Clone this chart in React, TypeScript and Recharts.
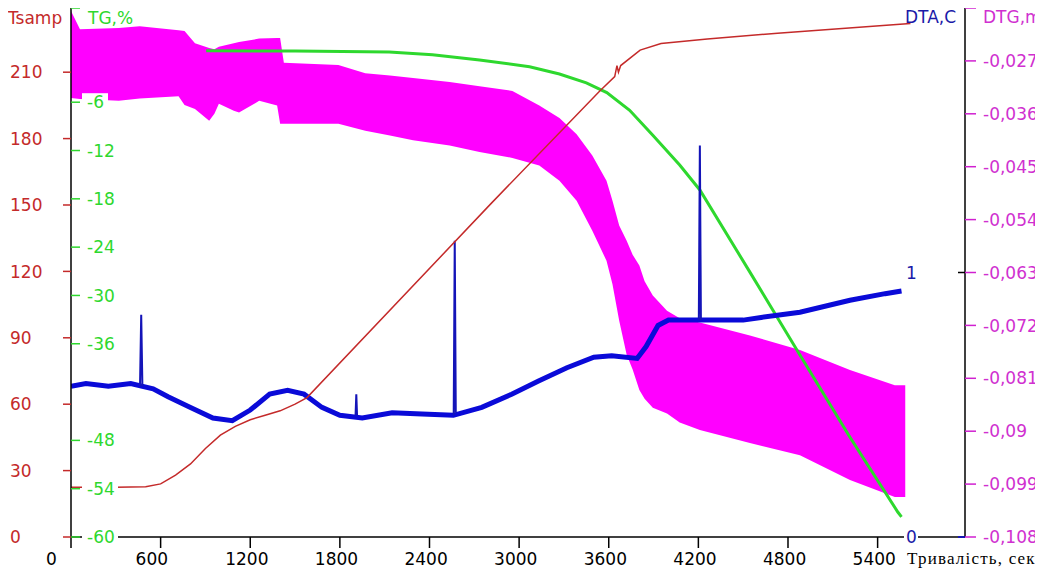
import React from 'react'
import { Area, ComposedChart, Line, XAxis, YAxis } from 'recharts'

// axis ticks
const timeTicks = [0, 600, 1200, 1800, 2400, 3000, 3600, 4200, 4800, 5400]
const tempTicks = [0, 30, 60, 90, 120, 150, 180, 210]
const tgTicks = [-60, -54, -48, -36, -30, -24, -18, -12, -6, 5.7]
const dtgTicks = [-0.108, -0.099, -0.09, -0.081, -0.072, -0.063, -0.054, -0.045, -0.036, -0.027, -0.018]
const dtaTicks = [0, 1]

// Tsamp, C
const tempTime = [0, 300, 500, 600, 700, 800, 900, 1000, 1100, 1200, 1300, 1400, 1500, 1580, 2810, 3540, 3640, 3655, 3665, 3680, 3810, 3950, 4260, 4730, 5550, 5620]
const tempVal = [22.5, 22.5, 22.7, 24, 28, 33, 40, 46, 50, 53, 55, 57, 60, 63, 150.5, 201.5, 208, 213, 210, 213, 220, 223, 225, 227.6, 231.7, 232]

// TG, %
const tgTime = [905, 1500, 2130, 2420, 2735, 3070, 3270, 3450, 3587, 3740, 3895, 4075, 4210, 4545, 4880, 5215, 5535, 5560]
const tgVal = [0.4, 0.35, 0.25, -0.1, -0.75, -1.6, -2.5, -3.6, -4.8, -7.0, -10.1, -13.8, -16.9, -27.1, -37.4, -47.6, -56.9, -57.5]

// DTA, C (base signal)
const dtaTime = [0, 100, 250, 400, 550, 650, 800, 950, 1080, 1200, 1330, 1450, 1560, 1680, 1800, 1950, 2150, 2350, 2560, 2750, 2950, 3130, 3320, 3500, 3620, 3790, 3850, 3930, 4000, 4210, 4500, 4620, 4880, 5215, 5450, 5560]
const dtaVal = [0.57, 0.58, 0.57, 0.58, 0.56, 0.53, 0.49, 0.45, 0.44, 0.48, 0.54, 0.555, 0.54, 0.49, 0.46, 0.45, 0.47, 0.465, 0.46, 0.49, 0.54, 0.59, 0.64, 0.68, 0.685, 0.675, 0.72, 0.8, 0.82, 0.82, 0.82, 0.83, 0.85, 0.895, 0.92, 0.93]

// DTA spikes
const spikeTime = [462, 470, 478, 1905, 1910, 1915, 2562, 2569, 2576, 4203, 4210, 4217]
const spikeVal = [0.57, 0.84, 0.57, 0.46, 0.54, 0.46, 0.46, 1.12, 0.47, 0.82, 1.48, 0.82]

// DTG  (noisy band: upper / lower envelope)
const dtgTime = [0, 60, 320, 460, 720, 760, 830, 925, 960, 990, 1090, 1125, 1260, 1380, 1400, 1425, 1790, 1970, 2135, 2290, 2535, 2735, 2955, 3135, 3270, 3385, 3490, 3585, 3625, 3670, 3720, 3760, 3805, 3840, 3895, 3990, 4075, 4210, 4545, 4880, 5215, 5515, 5585]
const dtgHigh = [-0.0185, -0.0216, -0.0214, -0.0211, -0.0218, -0.0219, -0.024, -0.0248, -0.025, -0.0246, -0.024, -0.0238, -0.0232, -0.0231, -0.0231, -0.0273, -0.0277, -0.0291, -0.0295, -0.0299, -0.0306, -0.0313, -0.0321, -0.0346, -0.0367, -0.0395, -0.0431, -0.0474, -0.0508, -0.055, -0.0576, -0.06, -0.0618, -0.0645, -0.0669, -0.0695, -0.0708, -0.0715, -0.0737, -0.0762, -0.0796, -0.0822, -0.0822]
const dtgLow = [-0.0333, -0.0335, -0.0338, -0.0334, -0.033, -0.0345, -0.0352, -0.0372, -0.036, -0.0343, -0.0355, -0.0358, -0.0338, -0.0346, -0.0377, -0.0377, -0.0377, -0.0389, -0.0397, -0.0405, -0.0414, -0.0425, -0.0435, -0.0448, -0.0474, -0.0508, -0.0559, -0.061, -0.065, -0.0712, -0.077, -0.0795, -0.083, -0.0845, -0.086, -0.087, -0.0885, -0.0898, -0.092, -0.0941, -0.0983, -0.1012, -0.1012]

// merge everything into one table keyed by time
const byTime = new Map<number, any>()
const put = (t: number, key: string, v: any) => {
  let row = byTime.get(t)
  if (!row) {
    row = { t }
    byTime.set(t, row)
  }
  row[key] = v
}
tempTime.forEach((t, i) => put(t, 'temp', tempVal[i]))
tgTime.forEach((t, i) => put(t, 'tg', tgVal[i]))
dtaTime.forEach((t, i) => put(t, 'dta', dtaVal[i]))
spikeTime.forEach((t, i) => put(t, 'spike', spikeVal[i]))
dtgTime.forEach((t, i) => put(t, 'dtg', [dtgLow[i], dtgHigh[i]]))
const data = Array.from(byTime.values()).sort((a, b) => a.t - b.t)

const FONT = 'DejaVu Sans, sans-serif'
const RED = '#c42a2a'
const GREEN = '#2ed82e'
const BLUE = '#0a0ad8'
const MAGENTA = '#ff00ff'
const PL = 63
const PR = 957
const PB = 537

const fmtDtg = (v: number) => v.toFixed(3).replace(/0+$/, '').replace('.', ',')

const TempTick = ({ y, payload }: any) => (
  <g>
    <line x1={PL - 8} x2={PL} y1={y} y2={y} stroke={RED} strokeWidth={1.5} />
    <text x={2} y={y} dy="0.36em" fill={RED} fontSize={17} fontFamily={FONT}>{payload.value}</text>
  </g>
)

const TgTick = ({ y, payload }: any) => (
  <g>
    <line x1={PL} x2={PL + 9} y1={y} y2={y} stroke={GREEN} strokeWidth={1.5} />
    {payload.value < 0 && (
      <>
        <rect x={PL + 11} y={y - 9} width={payload.value <= -10 ? 36 : 26} height={18} fill="#fff" />
        <text x={PL + 16} y={y} dy="0.36em" fill={GREEN} fontSize={17} fontFamily={FONT}>{payload.value}</text>
      </>
    )}
  </g>
)

const DtgTick = ({ y, payload }: any) => (
  <g>
    <line x1={PR} x2={PR + 11} y1={y} y2={y} stroke="#d020d0" strokeWidth={1.5} />
    {payload.value < -0.02 && (
      <text x={PR + 18} y={y} dy="0.36em" fill="#d030d0" fontSize={17} fontFamily={FONT}>{fmtDtg(payload.value)}</text>
    )}
  </g>
)

const DtaTick = ({ y, payload }: any) => (
  <g>
    <line x1={PR - 7} x2={PR} y1={y} y2={y} stroke={payload.value === 0 ? BLUE : '#000'} strokeWidth={1.5} />
    <rect x={PR - 61} y={y - 9} width={14} height={18} fill="#fff" />
    <text x={PR - 59} y={y} dy="0.36em" fill="#1a1aa8" fontSize={17} fontFamily={FONT}>{payload.value}</text>
  </g>
)

const TimeTick = ({ x, payload }: any) => (
  <g>
    <line x1={x} x2={x} y1={PB} y2={PB + 11} stroke="#000" strokeWidth={1.5} />
    <text x={x - 25} y={PB + 22} dy="0.36em" fill="#000" fontSize={17} fontFamily={FONT}>{payload.value}</text>
  </g>
)

const lbl = (left: number, top: number, color: string, text: string, extra: any = {}) => (
  <div style={{ position: 'absolute', left, top, color, fontFamily: FONT, fontSize: 17, lineHeight: '20px', whiteSpace: 'nowrap', ...extra }}>{text}</div>
)

export default function App() {
  return (
    <div style={{ position: 'relative', marginTop: -8, width: 1035, height: 571, overflow: 'hidden', background: '#fff' }}>
      <style>{'html,body{overflow:hidden}'}</style>
      <ComposedChart width={1035} height={571} data={data} margin={{ top: 8, right: 0, bottom: 0, left: 0 }}>
        <XAxis
          dataKey="t"
          type="number"
          domain={[0, 5985]}
          ticks={timeTicks}
          interval={0}
          allowDataOverflow
          height={34}
          axisLine={{ stroke: '#000', strokeWidth: 1.5 }}
          tickLine={false}
          tick={<TimeTick />}
        />
        <YAxis
          yAxisId="temp"
          orientation="left"
          width={63}
          domain={[0, 239]}
          ticks={tempTicks}
          interval={0}
          allowDataOverflow
          axisLine={{ stroke: '#000', strokeWidth: 1.5 }}
          tickLine={false}
          tick={<TempTick />}
        />
        <YAxis
          yAxisId="tg"
          orientation="left"
          mirror
          domain={[-60, 5.7]}
          ticks={tgTicks}
          interval={0}
          allowDataOverflow
          axisLine={false}
          tickLine={false}
          tick={<TgTick />}
        />
        <YAxis
          yAxisId="dtg"
          orientation="right"
          width={78}
          domain={[-0.108, -0.018]}
          ticks={dtgTicks}
          interval={0}
          allowDataOverflow
          axisLine={{ stroke: '#000', strokeWidth: 1.5 }}
          tickLine={false}
          tick={<DtgTick />}
        />
        <YAxis
          yAxisId="dta"
          orientation="right"
          mirror
          domain={[0, 2]}
          ticks={dtaTicks}
          interval={0}
          allowDataOverflow
          axisLine={false}
          tickLine={false}
          tick={<DtaTick />}
        />
        <Line yAxisId="tg" dataKey="tg" stroke={GREEN} strokeWidth={3} dot={false} connectNulls isAnimationActive={false} />
        <Line yAxisId="dta" dataKey="dta" stroke={BLUE} strokeWidth={5} dot={false} connectNulls isAnimationActive={false} />
        <Line yAxisId="dta" dataKey="spike" stroke="#1414b8" strokeWidth={2} dot={false} isAnimationActive={false} />
        <Area yAxisId="dtg" dataKey="dtg" stroke="none" fill={MAGENTA} fillOpacity={1} connectNulls isAnimationActive={false} />
        <Line yAxisId="temp" dataKey="temp" stroke={RED} strokeWidth={1.5} dot={false} connectNulls isAnimationActive={false} />
      </ComposedChart>
      {lbl(0, 8, RED, 'Tsamp')}
      {lbl(80, 8, GREEN, 'TG,%')}
      {lbl(897, 7, '#1a1aa8', 'DTA,C')}
      {lbl(975, 7, '#d030d0', 'DTG,m')}
      {lbl(899, 549, '#000', 'Тривалість, сек', { fontFamily: 'Liberation Serif, serif', fontSize: 17, letterSpacing: '1.2px' })}
    </div>
  )
}
